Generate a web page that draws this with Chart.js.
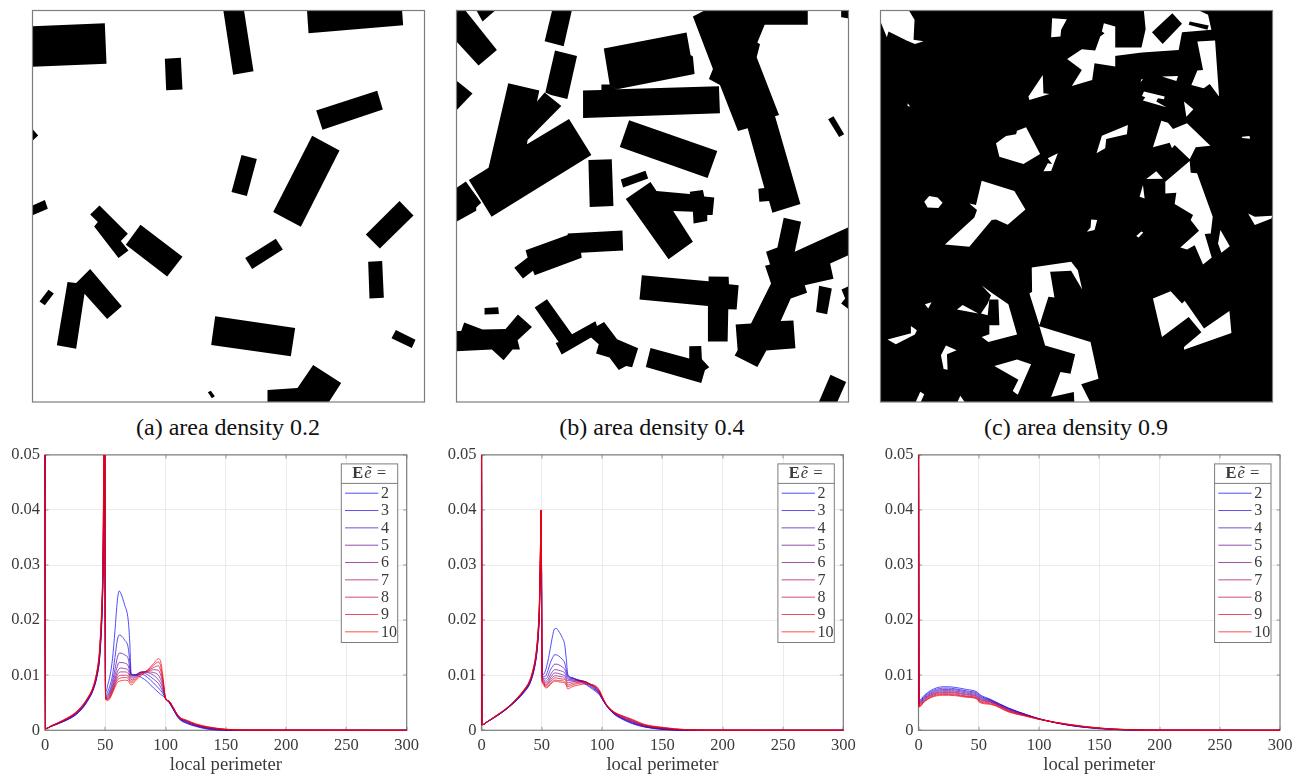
<!DOCTYPE html>
<html><head><meta charset="utf-8">
<script src="https://cdn.jsdelivr.net/npm/chart.js@4"></script>
<style>
html,body{margin:0;padding:0;background:#fff;width:1308px;height:776px;overflow:hidden}
canvas{position:absolute;display:block}
.cap{position:absolute;top:414px;font:24px "Liberation Serif",serif;color:#111;white-space:nowrap;text-align:center;line-height:26px}
</style></head><body>
<div class="cap" style="left:32px;width:392px">(a) area density 0.2</div>
<div class="cap" style="left:456px;width:392px">(b) area density 0.4</div>
<div class="cap" style="left:880px;width:392px">(c) area density 0.9</div>
<canvas id="t0"></canvas><canvas id="t1"></canvas><canvas id="t2"></canvas>
<canvas id="c0"></canvas><canvas id="c1"></canvas><canvas id="c2"></canvas>
<script>
// ---------- footprint maps: polygons in map units ----------
const mapA = [
[[7,77],[224,68],[229,190],[7,199]],
[[404,175],[452,172],[457,267],[408,269]],
[[578,20],[640,20],[670,212],[609,223]],
[[830,20],[1115,20],[1119,74],[835,98]],
[[858,330],[1041,271],[1058,327],[877,388]],
[[0,380],[7,386],[24,405],[7,421],[0,425]],
[[846,406],[928,450],[812,679],[729,635]],
[[634,464],[680,476],[650,587],[604,575]],
[[0,618],[44,599],[53,625],[0,648]],
[[208,615],[293,700],[272,722],[295,750],[265,773],[192,678],[203,665],[180,642]],
[[331,673],[457,769],[411,828],[287,733]],
[[737,715],[758,747],[666,806],[645,773]],
[[1108,602],[1150,645],[1049,744],[1007,702]],
[[1014,784],[1056,782],[1061,892],[1018,894]],
[[55,868],[71,879],[44,915],[28,903]],
[[180,806],[275,918],[231,956],[163,880],[138,1045],[80,1035],[112,845],[138,848]],
[[555,948],[795,983],[782,1068],[543,1034]],
[[1097,989],[1156,1018],[1145,1043],[1084,1014]],
[[542,1171],[554,1188],[545,1194],[533,1176]],
[[849,1094],[933,1148],[890,1215],[712,1215],[712,1169],[802,1163]]
];
const mapB = [
[[10,40],[40,25],[140,150],[85,197],[10,115]],
[[75,25],[143,25],[97,65]],
[[307,25],[366,25],[340,139],[283,124]],
[[314,152],[380,168],[351,297],[302,285],[285,278]],
[[10,235],[67,281],[22,328],[10,335]],
[[174,250],[267,272],[260,305],[283,278],[333,318],[232,420],[230,433],[356,357],[423,465],[124,650],[56,540],[115,503]],
[[10,570],[47,544],[93,608],[78,622],[78,632],[10,670]],
[[460,146],[708,98],[720,165],[727,170],[732,222],[500,268],[478,255]],
[[398,272],[453,270],[453,254],[480,254],[500,268],[805,259],[808,340],[400,354]],
[[727,50],[775,25],[1071,25],[1071,75],[942,75],[920,128],[928,133],[918,172],[985,345],[973,349],[1049,612],[965,638],[955,603],[926,605],[923,566],[941,564],[891,385],[862,393],[808,255],[775,237],[787,207]],
[[536,361],[800,453],[771,534],[508,441]],
[[1148,349],[1180,403],[1165,411],[1132,358]],
[[414,480],[484,478],[489,618],[418,621]],
[[511,538],[585,512],[593,535],[518,562]],
[[600,546],[618,573],[717,582],[718,575],[757,570],[761,589],[791,592],[786,645],[770,645],[770,663],[729,670],[727,635],[668,633],[727,725],[654,777],[526,597]],
[[352,700],[516,691],[518,751],[392,758],[394,773],[253,825],[248,812],[218,835],[192,803],[232,772],[226,750],[352,705]],
[[10,992],[33,992],[42,967],[97,988],[166,986],[203,943],[245,980],[202,1020],[209,1048],[187,1048],[160,1080],[125,1048],[10,1053]],
[[103,923],[144,921],[146,941],[104,943]],
[[290,897],[365,1002],[435,963],[440,977],[461,965],[500,1017],[563,1044],[545,1101],[527,1097],[505,1109],[477,1072],[437,1060],[445,1032],[422,1012],[334,1063],[316,1028],[325,1025],[253,922]],
[[600,1043],[716,1075],[716,1038],[752,1037],[754,1077],[776,1101],[763,1110],[752,1148],[586,1100]],
[[574,825],[773,843],[774,829],[834,830],[835,852],[864,855],[858,928],[833,927],[831,1024],[770,1024],[772,917],[567,898]],
[[999,653],[1051,665],[1032,755],[1200,678],[1200,762],[1138,790],[1148,836],[1062,855],[1069,878],[1020,895],[990,962],[1028,961],[1034,1044],[947,1051],[920,1100],[852,1066],[861,1050],[855,973],[901,970],[961,850],[943,797],[958,793],[946,755],[980,742]],
[[1105,857],[1143,865],[1129,942],[1096,935]],
[[1200,855],[1172,868],[1183,895],[1171,910],[1200,932]],
[[1139,1123],[1186,1145],[1155,1215],[1100,1215]],
[[1171,25],[1200,25],[1200,57],[1172,52]]
];
const groundC = [[[0,0],[1300,0],[1300,1300],[0,1300]]];
const gapsC = [
[[10,25],[100,25],[121,60],[118,120],[148,124],[122,132],[97,122],[43,95],[38,112],[21,70]],
[[533,55],[577,58],[560,90],[558,110],[530,112]],
[[688,70],[722,80],[722,200],[660,190],[653,240],[592,258],[622,210],[578,177],[622,148],[662,152],[677,110],[690,100],[682,95]],
[[807,25],[958,25],[1000,45],[1010,90],[922,97],[912,150],[802,158],[800,145],[813,88]],
[[720,143],[802,143],[802,158],[720,168]],
[[968,125],[1021,122],[1033,290],[1005,252],[987,265],[950,255],[968,212],[985,210]],
[[505,225],[507,280],[525,282],[465,300],[462,290]],
[[862,230],[910,228],[905,243]],
[[800,238],[805,238],[798,247]],
[[808,275],[870,290],[868,298],[850,295],[845,305],[875,322],[805,302],[812,292],[802,288]],
[[928,305],[956,328],[935,350]],
[[365,430],[395,408],[425,403],[428,392],[455,382],[497,462],[447,492],[375,470]],
[[760,375],[757,403],[695,417],[692,445],[666,460],[682,407]],
[[860,362],[880,368],[895,387],[937,370],[1007,437],[963,442],[945,478],[900,435],[892,445],[885,428],[835,442]],
[[1102,410],[1124,408],[1126,416],[1102,414]],
[[550,460],[530,513],[507,514],[520,490],[533,492],[520,475]],
[[945,483],[948,518],[967,520],[1014,650],[1008,700],[990,702],[1011,772],[985,793],[960,735],[937,748],[917,742],[973,692],[948,660],[955,645],[900,612],[905,578],[872,580],[872,545]],
[[845,514],[865,536],[815,537]],
[[805,555],[810,595],[795,590]],
[[322,542],[420,573],[453,628],[400,674],[365,658],[352,660],[285,740],[212,733],[300,652],[308,630],[285,610],[305,615]],
[[165,588],[190,592],[205,608],[192,624],[160,622],[150,605]],
[[650,658],[668,660],[660,690],[637,695],[648,682]],
[[1120,640],[1140,650],[1192,647],[1190,655],[1140,675]],
[[800,694],[806,697],[792,712],[785,708]],
[[1037,690],[1065,738],[1040,758],[1030,730]],
[[472,802],[590,785],[610,810],[623,868],[590,812],[527,815],[540,892],[522,890],[495,975],[465,880],[473,875]],
[[495,978],[648,1025],[672,1135],[620,1152],[652,1215],[600,1215],[598,1175],[530,1190],[558,1115],[588,1120],[602,1062],[512,1036]],
[[835,895],[888,873],[922,910],[930,902],[988,985],[1064,932],[1070,998],[930,1048],[928,1040],[980,996],[942,950],[862,1010]],
[[322,856],[355,880],[402,912],[428,1003],[342,1025],[322,1010],[345,1002],[345,975],[375,975],[372,898],[345,898],[340,945],[320,940],[340,910],[350,885]],
[[248,928],[265,914],[312,940]],
[[152,912],[172,906],[162,925]],
[[40,1018],[108,1000],[110,977],[128,990],[122,1003],[65,1032]],
[[215,1036],[247,1050],[218,1062],[220,1108],[208,1106],[200,1065]],
[[360,1097],[428,1078],[470,1092],[430,1183],[415,1172],[432,1138]],
[[120,1215],[138,1174],[150,1182],[135,1215]],
[[245,1215],[258,1186],[278,1215]],
[[100,310],[108,320],[100,318]]
];
const islandsC = [
[[893,40],[922,72],[864,132],[832,97]],
[[945,65],[1002,77],[998,90],[942,75]]
];

// ---------- curves: probability density x 1000 ----------
const seriesLabels = ['2','3','4','5','6','7','8','9','10'];
const perimA = [0,.4,5,10,15,20,25,30,35,40,43,45,46,47,48,48.9,49.5,50.2,50.6,52,54,56,58,60,61.5,63,66,69,70.3,71.5,75,80,85,90,94,96,98,100,103,106,111,118,125,135,150,165,300];
const a2 =[60,.3,.7,1.1,1.55,2.05,2.7,3.7,5.2,7.3,9.6,12.3,15,19,26,38,44,7.2,7,8.2,10,13,18,23.5,25.3,24.8,22.8,20,16,10.2,10,9.6,8.8,7.7,6.9,6.5,6.2,5.8,5,3.9,2.1,1.2,.7,.2,.02,0,0];
const a3 =[60,.3,.71,1.12,1.59,2.1,2.76,3.77,5.27,7.4,9.75,12.5,15.3,19.4,26.6,40,52,6.9,6.5,7,8.2,10,13.2,16.4,17.3,17.2,16.4,15,12.5,10.1,10.1,10.2,9.6,8.6,7.7,7.2,6.6,5.8,5.1,4,2.2,1.3,.8,.3,.04,0,0];
const a4 =[60,.3,.72,1.15,1.62,2.15,2.82,3.85,5.35,7.5,9.9,12.7,15.6,19.8,27.2,42,56,6.7,6.2,6.5,7.4,9,11,13.2,14,14,13.7,13,11.3,10,10.1,10.5,10.1,9.3,8.5,7.8,6.9,5.8,5.1,4,2.3,1.4,.85,.35,.06,0,0];
const a5 =[60,.3,.74,1.17,1.65,2.2,2.88,3.92,5.42,7.57,10,12.9,15.9,20.2,27.8,44,58,6.6,6,6.2,7,8.3,10,11.6,12.3,12.3,12.2,11.7,10.6,9.8,10,10.6,10.5,10,9.2,8.5,7.3,5.8,5.2,4.1,2.3,1.5,.9,.4,.08,0,0];
const a6 =[60,.3,.75,1.2,1.7,2.25,2.95,4,5.5,7.65,10.15,13.1,16.2,20.6,28.4,46,60,6.5,5.9,6,6.7,7.8,9.3,10.6,11.2,11.3,11.2,10.9,10,9.5,9.9,10.6,10.6,10.5,10,9.2,7.8,5.8,5.2,4.1,2.4,1.55,.95,.45,.1,.01,0];
const a7 =[60,.3,.76,1.22,1.73,2.3,3,4.07,5.57,7.72,10.27,13.3,16.5,21,29,48,62,6.4,5.8,5.8,6.4,7.5,8.8,10,10.5,10.6,10.6,10.3,9.6,9.2,9.7,10.5,10.7,11,10.9,10,8.3,5.8,5.2,4.2,2.4,1.6,1,.5,.12,.02,0];
const a8 =[60,.3,.77,1.25,1.77,2.35,3.07,4.15,5.65,7.8,10.4,13.5,16.8,21.4,29.6,50,64,6.3,5.7,5.7,6.2,7.2,8.4,9.5,9.9,10,10,9.8,9.2,8.9,9.5,10.4,10.8,11.4,11.7,10.8,8.7,5.8,5.3,4.2,2.5,1.7,1.05,.55,.15,.03,0];
const a9 =[60,.3,.79,1.27,1.8,2.4,3.13,4.22,5.72,7.9,10.55,13.75,17.1,21.8,30.2,52,66,6.2,5.6,5.6,6,7,8.1,9.1,9.4,9.5,9.6,9.4,8.9,8.6,9.3,10.2,10.9,11.8,12.4,11.6,9,5.7,5.3,4.3,2.5,1.75,1.1,.6,.18,.04,0];
const a10=[60,.3,.8,1.3,1.85,2.45,3.2,4.3,5.8,8,10.7,14,17.4,22.2,31,54,68,6.1,5.5,5.4,5.8,6.8,7.8,8.7,8.9,9,9.1,9,8.5,8.2,9,10,10.9,12.1,13,12.4,9.4,5.6,5.3,4.3,2.5,1.8,1.2,.65,.2,.05,0];

const perimB = [0,.4,5,10,15,20,25,30,35,40,43,45,46,47,48,48.9,49.5,50.2,51,53,55,57,59,60.5,62,64,67,69,70.3,71.5,75,80,85,90,95,98,100,103,106,110,115,125,135,150,170,200,300];
const b2 =[60,1,1.55,2.2,2.9,3.7,4.6,5.6,6.8,8.4,10.4,12.6,14.2,16.8,21,30,39.5,12,10.1,10.8,12.5,14.8,17.2,18.4,18.5,18,16.8,15.5,13,10.2,9.6,9,8.5,7.8,7,6.4,5.7,4.6,3.8,2.9,2.2,1.2,.6,.15,0,0,0];
const b3 =[60,1,1.55,2.22,2.93,3.73,4.63,5.65,6.87,8.5,10.5,12.7,14.4,17,21.3,30.5,39.6,11,9.7,9.8,10.8,12.2,13.2,13.7,13.7,13.5,12.9,12.2,11,9.9,9.5,9.1,8.7,8,7.2,6.5,5.7,4.7,3.8,3,2.3,1.3,.65,.2,.01,0,0];
const b4 =[60,1,1.56,2.24,2.95,3.75,4.66,5.7,6.93,8.6,10.6,12.8,14.6,17.2,21.6,31,39.7,10.5,9.5,9.3,9.8,10.9,11.6,12,12,11.9,11.5,11.1,10.3,9.6,9.4,9.2,8.8,8.2,7.3,6.6,5.8,4.7,3.9,3,2.35,1.4,.7,.25,.02,0,0];
const b5 =[60,1,1.57,2.26,2.98,3.78,4.7,5.75,7,8.7,10.7,13,14.8,17.4,21.9,31.5,39.8,10,9.3,8.9,9.2,10,10.7,11,11,10.9,10.7,10.4,9.8,9.3,9.2,9.1,8.9,8.3,7.5,6.7,5.8,4.7,3.9,3.1,2.4,1.5,.75,.3,.03,0,0];
const b6 =[60,1,1.57,2.28,3,3.8,4.73,5.8,7.07,8.75,10.85,13.1,15,17.6,22.2,32,39.9,9.7,9.1,8.6,8.8,9.5,10.1,10.4,10.4,10.3,10.1,9.9,9.4,9,9,9,8.9,8.4,7.6,6.8,5.9,4.8,3.9,3.1,2.5,1.6,.8,.35,.05,0,0];
const b7 =[60,1,1.58,2.3,3.03,3.83,4.76,5.85,7.13,8.85,11,13.2,15.2,17.8,22.5,32.5,40,9.4,8.9,8.3,8.5,9.1,9.6,9.9,9.9,9.8,9.7,9.5,9.1,8.6,8.8,8.9,8.9,8.4,7.7,6.9,6,4.8,4,3.2,2.6,1.7,.9,.4,.06,0,0];
const b8 =[60,1,1.59,2.32,3.05,3.85,4.8,5.9,7.2,8.95,11.1,13.4,15.3,18,22.8,33,40,9.2,8.8,8.1,8.3,8.8,9.2,9.5,9.5,9.4,9.3,9.2,8.8,8.2,8.5,8.7,8.8,8.4,7.8,7,6.1,4.8,4,3.2,2.7,1.8,.95,.45,.08,.01,0];
const b9 =[60,1,1.59,2.33,3.08,3.88,4.82,5.95,7.25,9,11.2,13.5,15.5,18.2,23.1,33.5,40,9,8.6,7.9,8,8.5,8.9,9.1,9.1,9,9,8.8,8.5,7.9,8.2,8.5,8.6,8.4,7.9,7.1,6.1,4.9,4,3.3,2.75,1.9,1,.5,.1,.01,0];
const b10=[60,1,1.6,2.35,3.1,3.9,4.85,6,7.3,9.1,11.3,13.6,15.6,18.4,23.4,34,40,8.8,8.4,7.7,7.8,8.3,8.7,8.9,8.9,8.8,8.7,8.6,8.2,7.5,7.9,8.2,8.4,8.3,8,7.2,6.2,4.9,4.1,3.3,2.8,2,1.1,.55,.12,.01,0];

const perimC = [0,.4,5,10,15,20,25,30,40,49,50.2,60,75,90,100,125,150,175,200,300];
const c2 =[60,5.4,6.4,7.2,7.7,7.9,7.9,7.8,7.4,6.9,6.6,5.6,4,2.8,2.1,.9,.3,.05,0,0];
const c3 =[60,5.2,6.2,7,7.45,7.65,7.65,7.55,7.15,6.7,6.4,5.5,4,2.8,2.1,.92,.32,.06,0,0];
const c4 =[60,5.05,6,6.8,7.25,7.4,7.4,7.35,6.95,6.5,6.2,5.4,3.9,2.8,2.1,.94,.33,.07,.01,0];
const c5 =[60,4.9,5.85,6.6,7.05,7.2,7.2,7.15,6.75,6.3,6,5.3,3.8,2.75,2.05,.96,.35,.08,.01,0];
const c6 =[60,4.75,5.7,6.45,6.85,7,7,6.95,6.55,6.15,5.8,5.2,3.7,2.7,2.05,.98,.37,.09,.01,0];
const c7 =[60,4.6,5.55,6.3,6.7,6.85,6.85,6.8,6.4,6,5.65,5.1,3.6,2.65,2.05,1,.38,.1,.01,0];
const c8 =[60,4.45,5.4,6.15,6.55,6.65,6.65,6.6,6.2,5.85,5.45,4.95,3.5,2.6,2,1.02,.39,.1,.01,0];
const c9 =[60,4.3,5.3,6,6.4,6.5,6.5,6.45,6.1,5.7,5.3,4.8,3.4,2.55,2,1.05,.4,.11,.01,0];
const c10=[60,4.2,5.2,5.9,6.25,6.35,6.35,6.3,6,5.6,5.1,4.7,3.3,2.5,2,1.08,.42,.12,.01,0];

const seriesColors = ['#0000ff','#2000df','#4000bf','#60009f','#800080','#9f0060','#bf0040','#df0020','#ff0000'];
const xTicks = [0,50,100,150,200,250,300];
const yTicks = [0,0.01,0.02,0.03,0.04,0.05];
const axisTitle = 'local perimeter';
const legendHead = ['E','ẽ ='];

const FRAME = '#7d7d7d', TXT = '#3a3a3a', SERIF = '"Liberation Serif", serif', TICKFONT = '16px '+SERIF;

function drawFrame(ch,o){
  const a = ch.chartArea, c = ch.ctx;
  c.save(); c.strokeStyle = FRAME; c.lineWidth = 1.2;
  if(o.ticks){
    c.lineWidth = 0.8; c.beginPath();
    ch.scales.x.ticks.forEach(t=>{const p=Math.round(ch.scales.x.getPixelForValue(t.value));
      c.moveTo(p,a.bottom);c.lineTo(p,a.bottom-3.5);c.moveTo(p,a.top);c.lineTo(p,a.top+3.5);});
    ch.scales.y.ticks.forEach(t=>{const p=Math.round(ch.scales.y.getPixelForValue(t.value));
      c.moveTo(a.left,p);c.lineTo(a.left+3.5,p);c.moveTo(a.right,p);c.lineTo(a.right-3.5,p);});
    c.stroke(); c.lineWidth = 1.2;
  }
  c.strokeRect(a.left,a.top,a.right-a.left,a.bottom-a.top);
  c.restore();
}
const framePlugin = {id:'frame',
  beforeDatasetsDraw(ch,args,o){ if(o.under) drawFrame(ch,o); },
  afterDatasetsDraw(ch,args,o){ if(!o.under) drawFrame(ch,o); }
};
const boxLegend = {id:'boxLegend', afterDraw(ch, args, o){
  if(!o.show) return;
  const c = ch.ctx, a = ch.chartArea;
  const w = 56.4, h = 178.6, l = a.right-9-w, t = a.top+9;
  c.save();
  c.fillStyle='#fff'; c.fillRect(l,t,w,h);
  c.strokeStyle=FRAME; c.lineWidth=1; c.strokeRect(l,t,w,h);
  c.beginPath(); c.moveTo(l,t+19.5); c.lineTo(l+w,t+19.5); c.stroke();
  c.fillStyle=TXT; c.textBaseline='middle'; c.textAlign='left';
  const bold='bold 16.5px '+SERIF, ital='italic 16.5px '+SERIF;
  c.font=bold; const ew = c.measureText(legendHead[0]).width;
  c.font=ital; const rw = c.measureText(legendHead[1]).width;
  const hx = l+(w-ew-rw-1)/2;
  c.font=bold; c.fillText(legendHead[0],hx,t+10);
  c.font=ital; c.fillText(legendHead[1],hx+ew+1,t+10);
  ch.data.datasets.forEach((d,i)=>{
    const y=t+29.3+i*17.33;
    c.strokeStyle=d.borderColor; c.lineWidth=0.7;
    c.beginPath(); c.moveTo(l+3.7,y); c.lineTo(l+37,y); c.stroke();
    c.fillStyle=TXT; c.font=TICKFONT; c.fillText(d.label,l+39.7,y+0.5);
  });
  c.restore();
}};
Chart.register(framePlugin, boxLegend);

function place(id,l,t,w,h){const e=document.getElementById(id);e.style.left=l+'px';e.style.top=t+'px';e.width=w;e.height=h;e.style.width=w+'px';e.style.height=h+'px';return e;}
function polyDataset(poly,color,order){
  return {data:poly.concat([poly[0]]).map(p=>({x:p[0],y:p[1]})),showLine:true,fill:'shape',backgroundColor:color,borderWidth:0,borderColor:color,pointRadius:0,tension:0,order};
}
function mapChart(id,left,box,sets){
  new Chart(place(id,left,8,396,396),{type:'scatter',data:{datasets:sets},options:{
    responsive:false,animation:false,events:[],
    layout:{padding:{left:2.5,right:1.5,top:2.5,bottom:2}},
    plugins:{legend:{display:false},tooltip:{enabled:false},frame:{ticks:false,under:false},boxLegend:{show:false}},
    scales:{x:{display:false,type:'linear',min:box[0],max:box[1]},y:{display:false,type:'linear',reverse:true,min:box[2],max:box[3]}}
  }});
}
function curveChart(id,left,yw,right,xs,rows){
  const sets = rows.map((r,i)=>({label:seriesLabels[i],data:xs.map((x,j)=>({x,y:r[j]/1000})),borderColor:seriesColors[i],borderWidth:0.7,pointRadius:0,showLine:true,cubicInterpolationMode:'monotone',order:rows.length-i,clip:{left:1,top:0,right:1,bottom:1}}));
  new Chart(place(id,left,440,430,336),{type:'scatter',data:{datasets:sets},options:{
    responsive:false,animation:false,events:[],
    layout:{padding:{left:0,right:right,top:11.7,bottom:0}},
    plugins:{legend:{display:false},tooltip:{enabled:false},frame:{ticks:true,under:true},boxLegend:{show:true}},
    scales:{
      x:{type:'linear',min:0,max:300,afterFit(s){s.height=45.7;},
        afterBuildTicks(s){s.ticks=xTicks.map(value=>({value}));},
        grid:{color:'#e6e6e6',lineWidth:0.8,drawTicks:false},border:{display:false},
        ticks:{color:TXT,font:{family:SERIF,size:16.5},padding:5,maxRotation:0,autoSkip:false,callback:v=>String(v)},
        title:{display:true,text:axisTitle,color:TXT,font:{family:SERIF,size:18.6},padding:{top:0,bottom:0}}},
      y:{type:'linear',min:0,max:0.05,afterFit(s){s.width=yw;},
        afterBuildTicks(s){s.ticks=yTicks.map(value=>({value}));},
        grid:{color:'#e6e6e6',lineWidth:0.8,drawTicks:false},border:{display:false},
        ticks:{color:TXT,font:{family:SERIF,size:16.5},padding:5,autoSkip:false,callback:v=>v===0?'0':v.toFixed(2)}}
    }
  }});
}
mapChart('t0',30,[7,1183,30,1205],mapA.map(p=>polyDataset(p,'#000',1)));
mapChart('t1',454,[19,1193,32,1205],mapB.map(p=>polyDataset(p,'#000',1)));
mapChart('t2',878,[19,1193,32,1205],[
  ...groundC.map(p=>polyDataset(p,'#000',3)),
  ...gapsC.map(p=>polyDataset(p,'#fff',2)),
  ...islandsC.map(p=>polyDataset(p,'#000',1))
]);
curveChart('c0',0,45,23.3,perimA,[a2,a3,a4,a5,a6,a7,a8,a9,a10]);
curveChart('c1',437,44.5,23.7,perimB,[b2,b3,b4,b5,b6,b7,b8,b9,b10]);
curveChart('c2',874,44.5,24,perimC,[c2,c3,c4,c5,c6,c7,c8,c9,c10]);
</script>
</body></html>
